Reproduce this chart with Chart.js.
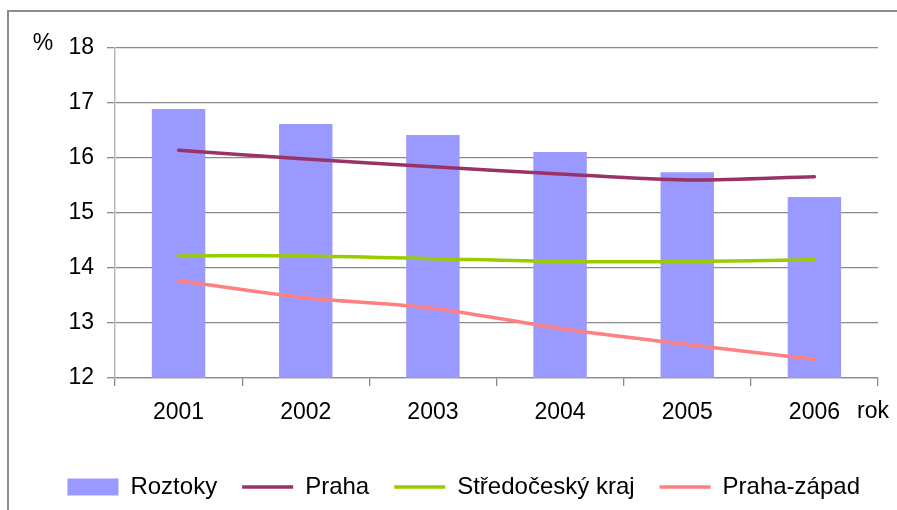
<!DOCTYPE html>
<html>
<head>
<meta charset="utf-8">
<script src="https://cdn.jsdelivr.net/npm/chart.js@4"></script>
<style>
  html, body { margin: 0; padding: 0; background: #fff; overflow: hidden; }
  #wrap { position: relative; width: 897px; height: 510px; }
  #frame { position: absolute; left: 7px; top: 10px; width: 1000px; height: 600px;
           border-left: 2px solid #8c8c8c; border-top: 2px solid #8c8c8c; }
  canvas { position: absolute; left: 0; top: 0; }
</style>
</head>
<body>
<div id="wrap">
  <div id="frame"></div>
  <canvas id="chart" width="897" height="510"></canvas>
</div>
<script>
const years = ["2001", "2002", "2003", "2004", "2005", "2006"];
const roztoky = [16.89, 16.62, 16.42, 16.11, 15.74, 15.29];
const praha = [16.14, 15.98, 15.84, 15.71, 15.60, 15.66];
const stredocesky = [14.22, 14.22, 14.17, 14.12, 14.12, 14.15];
const prahaZapad = [13.77, 13.46, 13.27, 12.90, 12.61, 12.34];
const yMin = 12, yMax = 18, yStep = 1;

const FONT = "'Liberation Sans', Arial, sans-serif";
const gridGray = "#8a8a8a";

document.addEventListener("DOMContentLoaded", () => {
  // extra labels: "%" above the value axis and "rok" after the year labels
  const unitLabels = {
    id: "unitLabels",
    afterDraw(chart) {
      const ctx = chart.ctx;
      ctx.save();
      ctx.fillStyle = "#000";
      ctx.font = "23px " + FONT;
      ctx.textBaseline = "middle";
      ctx.textAlign = "center";
      ctx.fillText("%", 43, 44);
      ctx.textAlign = "left";
      ctx.fillText("rok", 857, 412);
      ctx.restore();
    }
  };

  const lineSet = (label, data, color) => ({
    type: "line",
    label: label,
    data: data,
    borderColor: color,
    backgroundColor: color,
    borderWidth: 3.5,
    borderCapStyle: "round",
    pointRadius: 0,
    tension: 0.3,
    fill: false,
    order: 0
  });

  const ctx = document.getElementById("chart").getContext("2d");
  new Chart(ctx, {
    type: "bar",
    data: {
      labels: years,
      datasets: [
        {
          label: "Roztoky",
          data: roztoky,
          backgroundColor: "#9999FF",
          borderWidth: 0,
          barPercentage: 0.42,
          categoryPercentage: 1,
          order: 1
        },
        lineSet("Praha", praha, "#993366"),
        lineSet("Středočeský kraj", stredocesky, "#99CC00"),
        lineSet("Praha-západ", prahaZapad, "#FF8080")
      ]
    },
    options: {
      responsive: false,
      animation: false,
      layout: { padding: { top: 48, right: 12, left: 0, bottom: 1 } },
      scales: {
        x: {
          grid: { offset: true, drawOnChartArea: false, tickLength: 8, tickColor: gridGray, lineWidth: 1.3 },
          border: { color: gridGray, width: 1.3 },
          ticks: { color: "#000", font: { family: FONT, size: 23 }, padding: 13, maxRotation: 0 },
          afterFit: (scale) => { scale.height = 72; }
        },
        y: {
          min: yMin,
          max: yMax,
          ticks: { stepSize: yStep, color: "#000", font: { family: FONT, size: 23 }, padding: 13 },
          grid: { color: gridGray, lineWidth: 1.3, tickLength: 8, tickColor: gridGray },
          border: { color: "#b8b8b8", width: 1.5 },
          afterFit: (scale) => { scale.width = 115; }
        },
        // empty spacer on the right so the plot ends where the original does
        spacer: {
          type: "linear",
          position: "right",
          grid: { display: false },
          ticks: { display: false },
          border: { display: false },
          afterFit: (scale) => { scale.width = 7; }
        }
      },
      plugins: {
        legend: {
          position: "bottom",
          align: "end",
          labels: {
            color: "#000",
            font: { family: FONT, size: 24 },
            usePointStyle: true,
            pointStyleWidth: 51,
            boxWidth: 51,
            boxHeight: 17,
            padding: 25,
            sort: (a, b) => a.datasetIndex - b.datasetIndex,
            generateLabels: (chart) => {
              const items = Chart.defaults.plugins.legend.labels.generateLabels(chart);
              items.forEach((it) => {
                const ds = chart.data.datasets[it.datasetIndex];
                it.pointStyle = ds.type === "line" ? "line" : "rect";
              });
              return items;
            }
          }
        },
        tooltip: { enabled: false }
      }
    },
    plugins: [unitLabels]
  });
});
</script>
</body>
</html>
